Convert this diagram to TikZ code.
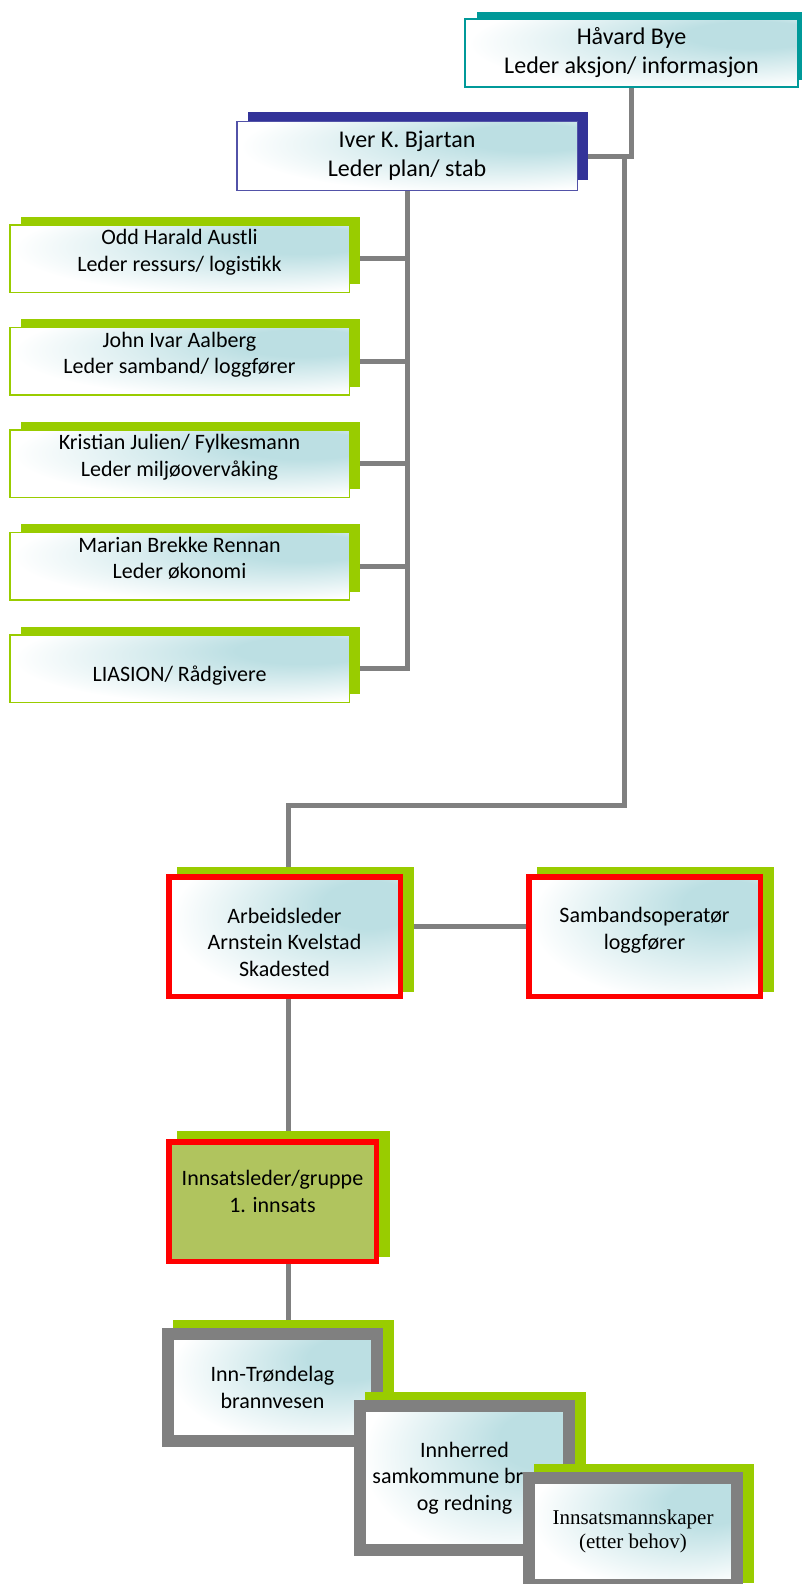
\documentclass[tikz,border=0pt]{standalone}
\usepackage{fontspec}
\setmainfont{Carlito}
\newfontfamily\timesfont{Liberation Serif}
\usepackage{tikz}
\usetikzlibrary{positioning,shadows,backgrounds}
\definecolor{palGreen}{HTML}{99CC00}
\definecolor{palTeal}{HTML}{009999}
\definecolor{palIndigo}{HTML}{333399}
\definecolor{palRed}{HTML}{FF0000}
\definecolor{palGray}{HTML}{808080}
\definecolor{palTealLt}{HTML}{BCDFE3}
\definecolor{palOlive}{HTML}{B0C45E}
\pgfdeclareradialshading{tealglow}{\pgfpoint{22bp}{16bp}}{%
  color(0bp)=(palTealLt); color(10bp)=(palTealLt);
  color(34bp)=(white); color(60bp)=(white)}
\tikzset{
  orgbox/.style={rectangle, align=center, inner sep=2pt,
                 font=\fontsize{22}{26.5}\selectfont},
  glow/.style={shading=tealglow},
  leadbox/.style={orgbox, glow, line width=1.5pt, minimum width=340.5pt,
                  minimum height=68.5pt, font=\fontsize{24}{29}\selectfont},
  stabbox/.style={orgbox, glow, draw=palGreen, line width=1.5pt,
                  minimum width=339.5pt, minimum height=67.5pt, text depth=16pt,
                  general shadow={fill=palGreen, shadow xshift=11pt,
                                  shadow yshift=8pt}},
  stedframe/.style={orgbox, draw=palRed, line width=5.5pt,
                  minimum width=231.5pt, minimum height=119.5pt,
                  general shadow={fill=palGreen, draw=palGreen, line width=5.5pt,
                                  shadow xshift=10.5pt, shadow yshift=7pt}},
  stedbox/.style={stedframe, glow, text depth=16pt},
  etatbox/.style={orgbox, glow, draw=palGray, line width=12pt,
                  minimum width=209pt, minimum height=107pt,
                  general shadow={fill=palGreen, draw=palGreen, line width=12pt,
                                  shadow xshift=10.5pt, shadow yshift=8pt}},
  orgline/.style={draw=palGray, line width=5pt},
}
\begin{document}
\begin{tikzpicture}[x=1pt, y=-1pt, node distance=33.5pt]
\useasboundingbox (0,0) rectangle (801,1584);

%% Ledelse
\node[leadbox, draw=palTeal, line width=2pt, minimum width=333pt, minimum height=68pt,
      general shadow={fill=palTeal, shadow xshift=12pt, shadow yshift=7pt}]
      (aksjon) at (631.5,53) {Håvard Bye\\Leder aksjon/ informasjon};
\node[leadbox, draw=palIndigo!85,
      general shadow={fill=palIndigo, shadow xshift=11pt, shadow yshift=10pt}]
      (stab) at (407,156) {Iver K. Bjartan\\Leder plan/ stab};

%% Stab
\node[stabbox] (ressurs) at (179.5,258.5) {Odd Harald Austli\\Leder ressurs/ logistikk};
\node[stabbox, below=of ressurs] (loggfor) {John Ivar Aalberg\\Leder samband/ loggfører};
\node[stabbox, below=of loggfor] (miljo) {Kristian Julien/ Fylkesmann\\Leder miljøovervåking};
\node[stabbox, below=of miljo] (okonomi) {Marian Brekke Rennan\\Leder økonomi};
\node[stabbox, below=of okonomi, text height=42pt] (liaison) {LIASION/ Rådgivere};

%% Skadested
\node[stedbox, text height=95pt] (arbeid) at (284.5,936.5)
      {Arbeidsleder\\Arnstein Kvelstad\\Skadested};
\node[stedbox] (sambop) at (644.5,936.5) {Sambandsoperatør\\loggfører};
\node[stedframe, minimum width=207.5pt, fill=palOlive, text depth=20pt,
      general shadow={fill=palGreen, draw=palGreen, line width=5.5pt,
                      shadow xshift=10.5pt, shadow yshift=8pt}]
      (innsats) at (272.5,1201.5) {Innsatsleder/gruppe\\1. innsats};

%% Innsats
\node[etatbox] (brann) at (272.5,1387.5) {Inn-Trøndelag\\brannvesen};
\node[etatbox, minimum height=144pt] (innherred) at (464.5,1478)
      {Innherred\\samkommune brann\\og redning};
\node[etatbox, minimum width=208pt, font=\timesfont\fontsize{21}{24}\selectfont]
      (mannskap) at (633,1531.5) {Innsatsmannskaper\\(etter behov)};

\coordinate (aksjonSplit) at (624,156);
\coordinate (stedTurn) at (288,805);

%% Linjer
\begin{scope}[on background layer]
  \draw[orgline] (aksjon.south) |- (stab.east);
  \foreach \g in {ressurs,loggfor,miljo,okonomi,liaison}
    \draw[orgline] (stab.south) |- (\g.east);
  \draw[orgline] (aksjonSplit) |- (stedTurn) -- (stedTurn |- arbeid.north);
  \draw[orgline] ([yshift=10pt]arbeid.east) -- ([yshift=10pt]sambop.west);
  \draw[orgline] (stedTurn |- arbeid.south) -- (stedTurn |- innsats.north);
  \draw[orgline] (stedTurn |- innsats.south) -- (stedTurn |- brann.north);
\end{scope}
\end{tikzpicture}
\end{document}
